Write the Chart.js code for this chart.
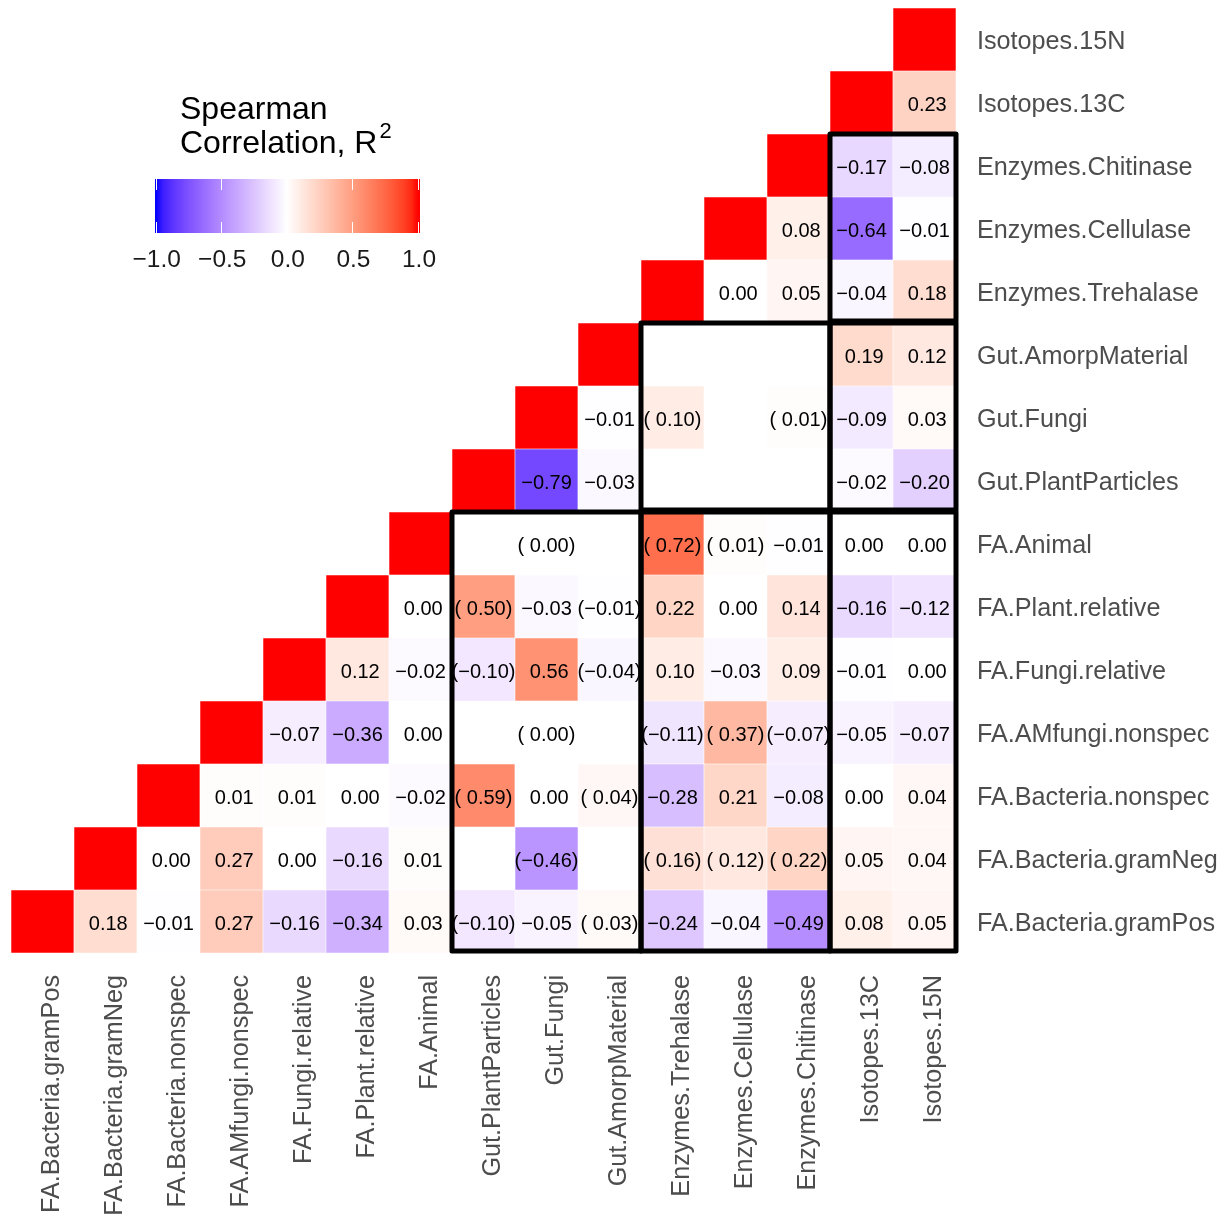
<!DOCTYPE html>
<html>
<head>
<meta charset="utf-8">
<script src="https://cdn.jsdelivr.net/npm/chart.js@4/dist/chart.umd.min.js"></script>
<style>
  body { margin: 0; background: #fff; }
  canvas { display: block; }
</style>
</head>
<body>
<canvas id="chart" width="1226" height="1218"></canvas>
<script>
const variables = [
  "FA.Bacteria.gramPos", "FA.Bacteria.gramNeg", "FA.Bacteria.nonspec", "FA.AMfungi.nonspec",
  "FA.Fungi.relative", "FA.Plant.relative", "FA.Animal",
  "Gut.PlantParticles", "Gut.Fungi", "Gut.AmorpMaterial",
  "Enzymes.Trehalase", "Enzymes.Cellulase", "Enzymes.Chitinase",
  "Isotopes.13C", "Isotopes.15N"
];

// each row starts at its own diagonal cell (value 1) and runs to the last column
const rowGramPos   = [1, 0.18, -0.01, 0.27, -0.16, -0.34, 0.03, -0.10, -0.05, 0.03, -0.24, -0.04, -0.49, 0.08, 0.05];
const rowGramNeg   = [1, 0.00, 0.27, 0.00, -0.16, 0.01, null, -0.46, null, 0.16, 0.12, 0.22, 0.05, 0.04];
const rowNonspec   = [1, 0.01, 0.01, 0.00, -0.02, 0.59, 0.00, 0.04, -0.28, 0.21, -0.08, 0.00, 0.04];
const rowAMfungi   = [1, -0.07, -0.36, 0.00, null, 0.00, null, -0.11, 0.37, -0.07, -0.05, -0.07];
const rowFungiRel  = [1, 0.12, -0.02, -0.10, 0.56, -0.04, 0.10, -0.03, 0.09, -0.01, 0.00];
const rowPlantRel  = [1, 0.00, 0.50, -0.03, -0.01, 0.22, 0.00, 0.14, -0.16, -0.12];
const rowAnimal    = [1, null, 0.00, null, 0.72, 0.01, -0.01, 0.00, 0.00];
const rowGutPlant  = [1, -0.79, -0.03, null, null, null, -0.02, -0.20];
const rowGutFungi  = [1, -0.01, 0.10, null, 0.01, -0.09, 0.03];
const rowGutAmorp  = [1, null, null, null, 0.19, 0.12];
const rowTrehalase = [1, 0.00, 0.05, -0.04, 0.18];
const rowCellulase = [1, 0.08, -0.64, -0.01];
const rowChitinase = [1, -0.17, -0.08];
const row13C       = [1, 0.23];
const row15N       = [1];

const rows = [rowGramPos, rowGramNeg, rowNonspec, rowAMfungi, rowFungiRel, rowPlantRel, rowAnimal,
  rowGutPlant, rowGutFungi, rowGutAmorp, rowTrehalase, rowCellulase, rowChitinase, row13C, row15N];

// columns whose value is shown in brackets, per row
const bracketCols = [[7, 9], [8, 10, 11, 12], [7, 9], [8, 10, 11, 12], [7, 9], [7, 9], [8, 10, 11],
  [], [10, 12], [], [], [], [], [], []];

// variable groups [first, last] for the block outlines
const groups = [[0, 6], [7, 9], [10, 12], [13, 14]];

const legendTicks = [-1, -0.5, 0, 0.5, 1];
const FONT = "'Liberation Sans', Arial, sans-serif";

// Lab interpolation blue - white - red
function toLab(rgb) {
  const lin = rgb.map(c => { c /= 255; return c <= 0.04045 ? c / 12.92 : Math.pow((c + 0.055) / 1.055, 2.4); });
  const X = (0.4124 * lin[0] + 0.3576 * lin[1] + 0.1805 * lin[2]) / 0.95047;
  const Y = 0.2126 * lin[0] + 0.7152 * lin[1] + 0.0722 * lin[2];
  const Z = (0.0193 * lin[0] + 0.1192 * lin[1] + 0.9505 * lin[2]) / 1.08883;
  const f = t => t > 0.008856 ? Math.cbrt(t) : 7.787 * t + 16 / 116;
  return [116 * f(Y) - 16, 500 * (f(X) - f(Y)), 200 * (f(Y) - f(Z))];
}
function fromLab([L, a, b]) {
  const fy = (L + 16) / 116, fx = fy + a / 500, fz = fy - b / 200;
  const inv = t => t ** 3 > 0.008856 ? t ** 3 : (t - 16 / 116) / 7.787;
  const X = inv(fx) * 0.95047, Y = inv(fy), Z = inv(fz) * 1.08883;
  const lin = [3.2406 * X - 1.5372 * Y - 0.4986 * Z, -0.9689 * X + 1.8758 * Y + 0.0415 * Z, 0.0557 * X - 0.2040 * Y + 1.0570 * Z];
  const rgb = lin.map(c => {
    const v = c <= 0.0031308 ? 12.92 * c : 1.055 * Math.pow(c, 1 / 2.4) - 0.055;
    return Math.round(Math.max(0, Math.min(1, v)) * 255);
  });
  return `rgb(${rgb[0]},${rgb[1]},${rgb[2]})`;
}
const labLow = toLab([0, 0, 255]), labMid = toLab([255, 255, 255]), labHigh = toLab([255, 0, 0]);
function colorFor(v) {
  const end = v < 0 ? labLow : labHigh;
  const t = Math.min(1, Math.abs(v));
  return fromLab(labMid.map((m, k) => m + (end[k] - m) * t));
}

function fmt(v, bracket) {
  let s = (v < 0 ? "\u2212" : " ") + Math.abs(v).toFixed(2);
  return bracket ? "(" + s + ")" : s;
}

const datasets = rows.map((row, j) => {
  const data = variables.map((_, i) => (i >= j && row[i - j] != null) ? [j - 0.5, j + 0.5] : null);
  const colors = variables.map((_, i) => (i >= j && row[i - j] != null) ? colorFor(row[i - j]) : "#fff");
  return {
    label: variables[j], data, backgroundColor: colors,
    borderColor: "#fff", borderWidth: 0.6, borderSkipped: false,
    grouped: false, categoryPercentage: 1, barPercentage: 1
  };
});

const cellText = {
  id: "cellText",
  afterDatasetsDraw(chart) {
    const { ctx, scales: { x, y } } = chart;
    ctx.save();
    ctx.font = "20px " + FONT;
    ctx.fillStyle = "#000";
    ctx.textAlign = "center";
    ctx.textBaseline = "middle";
    rows.forEach((row, j) => {
      row.forEach((v, k) => {
        const i = j + k;
        if (k === 0 || v == null) return;
        ctx.fillText(fmt(v, bracketCols[j].includes(i)), x.getPixelForValue(i), y.getPixelForValue(j) + 3);
      });
    });
    // block outlines
    ctx.strokeStyle = "#000";
    ctx.lineWidth = 5;
    ctx.lineJoin = "round";
    groups.forEach((gy, a) => {
      groups.forEach((gx, b) => {
        if (b <= a) return;
        const x0 = x.getPixelForValue(gx[0] - 0.5), x1 = x.getPixelForValue(gx[1] + 0.5);
        const y0 = y.getPixelForValue(gy[1] + 0.5), y1 = y.getPixelForValue(gy[0] - 0.5);
        ctx.strokeRect(x0, y0, x1 - x0, y1 - y0 - 2);
      });
    });
    ctx.restore();
  }
};

const colorLegend = {
  id: "colorLegend",
  afterDraw(chart) {
    const ctx = chart.ctx;
    ctx.save();
    ctx.fillStyle = "#000";
    ctx.textBaseline = "alphabetic";
    ctx.textAlign = "left";
    ctx.font = "32px " + FONT;
    ctx.fillText("Spearman", 180, 119);
    ctx.fillText("Correlation, R", 180, 153);
    const w = ctx.measureText("Correlation, R").width;
    ctx.font = "22px " + FONT;
    ctx.fillText("2", 180 + w + 2, 138);

    const xL = 155.7, xR = 418, top = 179, bot = 233;
    const px = v => xL + (v + 1) / 2 * (xR - xL);
    const grad = ctx.createLinearGradient(xL, 0, xR, 0);
    for (let s = 0; s <= 40; s++) {
      const v = -1 + s / 20;
      grad.addColorStop(s / 40, colorFor(v));
    }
    ctx.fillStyle = grad;
    ctx.fillRect(155, top, 265, bot - top);
    ctx.strokeStyle = "#fff";
    ctx.lineWidth = 1;
    legendTicks.forEach(v => {
      const xx = Math.round(px(v)) + 0.5;
      ctx.beginPath();
      ctx.moveTo(xx, top); ctx.lineTo(xx, top + 11);
      ctx.moveTo(xx, bot - 11); ctx.lineTo(xx, bot);
      ctx.stroke();
    });
    ctx.fillStyle = "#1a1a1a";
    ctx.font = "24.5px " + FONT;
    ctx.textAlign = "center";
    ctx.textBaseline = "middle";
    legendTicks.forEach(v => {
      const s = (v < 0 ? "\u2212" : "") + Math.abs(v).toFixed(1);
      ctx.fillText(s, px(v) + 1, 260);
    });
    ctx.restore();
  }
};

new Chart(document.getElementById("chart").getContext("2d"), {
  type: "bar",
  data: { labels: variables, datasets },
  options: {
    responsive: false,
    animation: false,
    layout: { padding: { left: 11, top: 8, right: 0, bottom: 0 } },
    plugins: { legend: { display: false }, tooltip: { enabled: false } },
    scales: {
      x: {
        grid: { display: false, drawTicks: false },
        border: { display: false },
        ticks: {
          autoSkip: false, minRotation: 90, maxRotation: 90, padding: 22, labelOffset: 10,
          color: "#4d4d4d", font: { size: 25.2, family: FONT }
        },
        afterFit: s => { s.height = 265; s.paddingLeft = 0; s.paddingRight = 0; }
      },
      y: {
        type: "linear", position: "right", min: -0.5, max: 14.5,
        grid: { display: false, drawTicks: false },
        border: { display: false },
        afterBuildTicks: s => { s.ticks = variables.map((_, i) => ({ value: i })); },
        ticks: {
          autoSkip: false, padding: 21, labelOffset: 3,
          color: "#4d4d4d", font: { size: 25.2, family: FONT },
          callback: v => variables[v]
        },
        afterFit: s => { s.width = 270; s.paddingTop = 0; s.paddingBottom = 0; }
      }
    }
  },
  plugins: [cellText, colorLegend]
});
</script>
</body>
</html>
